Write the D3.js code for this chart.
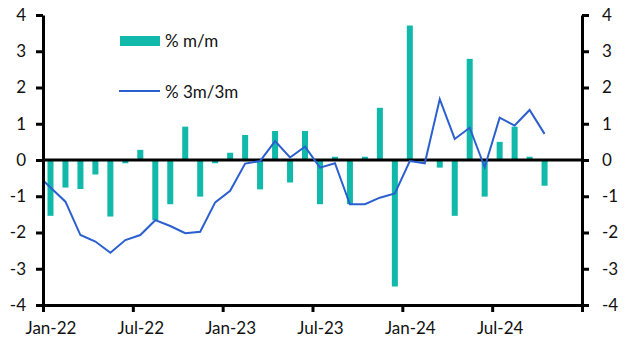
<!DOCTYPE html>
<html>
<head>
<meta charset="utf-8">
<script src="https://cdn.jsdelivr.net/npm/d3@7"></script>
<style>
  html, body { margin: 0; padding: 0; background: #fff; }
  svg { display: block; font-family: Lato, "Noto Sans", sans-serif; }
</style>
</head>
<body>
<svg id="chart" width="630" height="355"></svg>
<script>
// Months on the axis: Jan-22 .. Dec-24 (36 slots); data run Jan-22 .. Oct-24
const months = ["Jan-22","Feb-22","Mar-22","Apr-22","May-22","Jun-22","Jul-22","Aug-22","Sep-22","Oct-22","Nov-22","Dec-22",
                "Jan-23","Feb-23","Mar-23","Apr-23","May-23","Jun-23","Jul-23","Aug-23","Sep-23","Oct-23","Nov-23","Dec-23",
                "Jan-24","Feb-24","Mar-24","Apr-24","May-24","Jun-24","Jul-24","Aug-24","Sep-24","Oct-24"];
const axisSlots = 36;
const mm = [-1.54,-0.76,-0.80,-0.40,-1.56,-0.09,0.28,-1.66,-1.22,0.92,-1.01,-0.09,
            0.20,0.69,-0.81,0.80,-0.62,0.80,-1.22,0.09,-1.22,0.09,1.44,-3.49,
            3.71,0.00,-0.21,-1.54,2.79,-1.01,0.50,0.92,0.09,-0.71];
// 3m/3m series starts one month earlier (Dec-21), clipped at the axis
const m3Start = -1;
const m3 = [-0.37,
            -0.76,-1.15,-2.07,-2.25,-2.56,-2.21,-2.07,-1.66,-1.82,-2.02,-1.98,-1.17,
            -0.85,-0.10,-0.03,0.52,0.07,0.37,-0.21,-0.09,-1.22,-1.22,-1.04,-0.92,
            -0.03,-0.09,1.68,0.58,0.89,-0.20,1.17,0.95,1.38,0.72];
const yTicks = [-4,-3,-2,-1,0,1,2,3,4];
const xTickIdx = [0,6,12,18,24,30,36];
const xTickLabels = ["Jan-22","Jul-22","Jan-23","Jul-23","Jan-24","Jul-24",""];
const legendLabels = ["% m/m","% 3m/3m"];

const teal = "#10b9aa", blue = "#2b5fd0";
const FONT = "Lato, 'Noto Sans', sans-serif";
const L = 43, R = 582, T = 15, B = 305;

const svg = d3.select("#chart");
const x = d3.scaleLinear().domain([0, axisSlots]).range([L, R]);
const y = d3.scaleLinear().domain([-4, 4]).range([B, T]);
const step = x(1) - x(0);
const barW = 6;

svg.append("defs").append("clipPath").attr("id","clip")
  .append("rect").attr("x", L).attr("y", T - 5).attr("width", R - L).attr("height", B - T + 10);

// bars
svg.append("g").selectAll("rect").data(mm).join("rect")
  .attr("x", (d,i) => x(i + 0.5) - barW/2)
  .attr("width", barW)
  .attr("y", d => y(Math.max(0, d)))
  .attr("height", d => Math.abs(y(d) - y(0)))
  .attr("fill", teal);

// zero line
svg.append("line").attr("x1", L).attr("x2", R).attr("y1", y(0)).attr("y2", y(0))
  .attr("stroke", "#000").attr("stroke-width", 3);

// line
const line = d3.line().x((d,i) => x(i + m3Start + 0.5)).y(d => y(d));
svg.append("path").datum(m3).attr("d", line)
  .attr("clip-path", "url(#clip)")
  .attr("fill", "none").attr("stroke", blue).attr("stroke-width", 2).attr("stroke-linejoin", "miter");

// axes
function styleAxis(g) {
  g.attr("font-family", FONT).attr("font-size", 17);
  g.selectAll(".domain").attr("stroke", "#000").attr("stroke-width", 3);
  g.selectAll(".tick line").attr("stroke", "#000").attr("stroke-width", 3);
  g.selectAll("text").attr("fill", "#111");
}
const fmt = d => d < 0 ? "-" + Math.abs(d) : String(d);
svg.append("g").attr("transform", `translate(${L},0)`)
  .call(d3.axisLeft(y).tickValues(yTicks).tickFormat(fmt).tickSizeInner(7).tickSizeOuter(0).tickPadding(10))
  .call(styleAxis);
svg.append("g").attr("transform", `translate(${R},0)`)
  .call(d3.axisRight(y).tickValues(yTicks).tickFormat(fmt).tickSizeInner(7).tickSizeOuter(0).tickPadding(13))
  .call(styleAxis);
svg.append("g").attr("transform", `translate(0,${B})`)
  .call(d3.axisBottom(x).tickValues(xTickIdx).tickFormat((d,i) => xTickLabels[i]).tickSizeInner(7).tickSizeOuter(0).tickPadding(10))
  .call(styleAxis)
  .call(g => g.selectAll("text").attr("dx", step/2).attr("dy", "0.71em"));

// legend
const lg = svg.append("g").attr("font-family", FONT);
lg.append("rect").attr("x", 120).attr("y", 36).attr("width", 40).attr("height", 10).attr("fill", teal);
lg.append("text").attr("x", 165).attr("y", 41).attr("dy", "0.35em").attr("font-size", 17).attr("fill", "#111").text(legendLabels[0]);
lg.append("line").attr("x1", 119).attr("x2", 160).attr("y1", 91).attr("y2", 91).attr("stroke", blue).attr("stroke-width", 2);
lg.append("text").attr("x", 165).attr("y", 92).attr("dy", "0.35em").attr("font-size", 17).attr("fill", "#111").text(legendLabels[1]);
</script>
</body>
</html>
